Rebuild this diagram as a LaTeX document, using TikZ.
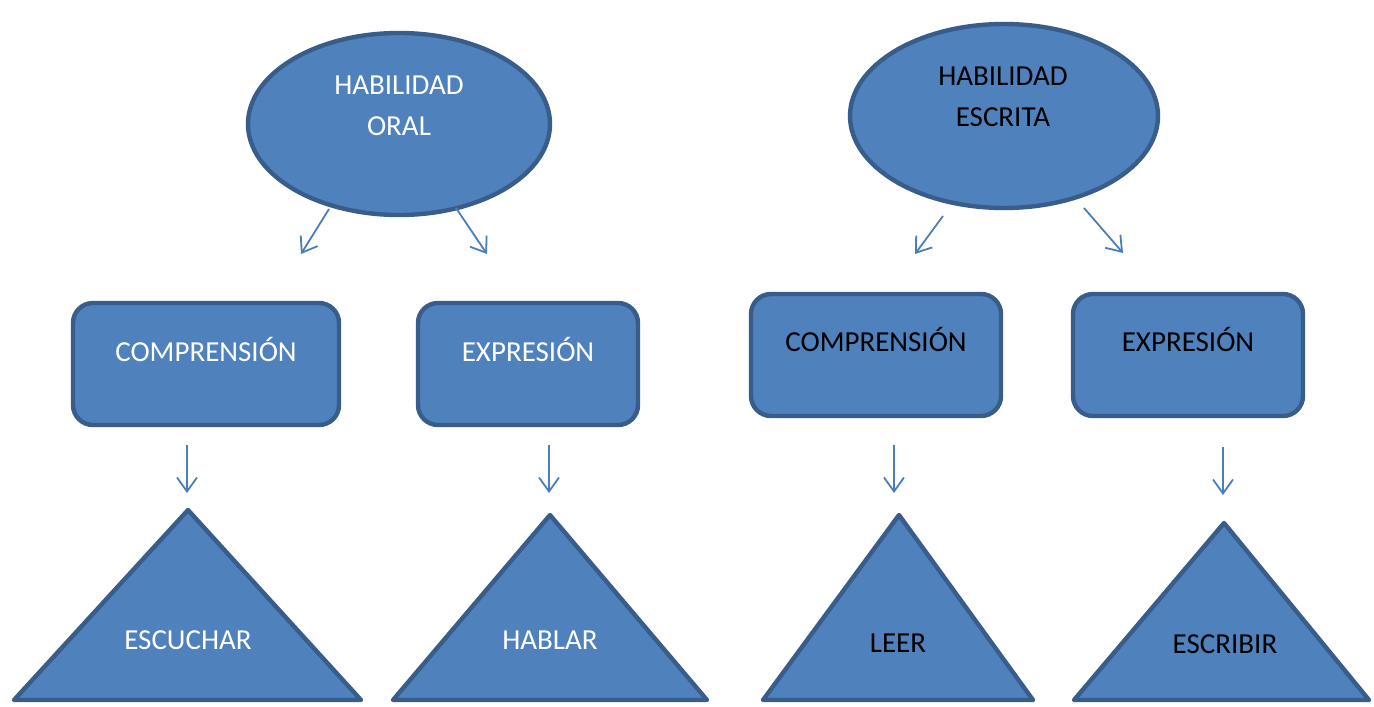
\documentclass[tikz,border=0pt]{standalone}
\usepackage{fontspec}
\setmainfont{Carlito}
\usetikzlibrary{arrows.meta,shapes.geometric}
\definecolor{boxfill}{HTML}{4F81BD}
\definecolor{boxline}{HTML}{385D8A}
\definecolor{arrowblue}{HTML}{4A7EBB}
\tikzset{
	skill/.style={ellipse, draw=boxline, fill=boxfill, line width=2.2pt, minimum width=151pt, minimum height=91pt, inner sep=0pt},
	part/.style={rectangle, rounded corners=10pt, draw=boxline, fill=boxfill, line width=2.2pt, inner sep=0pt},
	act/.style={draw=boxline, fill=boxfill, line width=2.2pt, line join=round},
	lbl/.style={font=\fontsize{14.5}{20.5}\selectfont, align=center, inner sep=0pt},
	flow/.style={draw=arrowblue, line width=0.9pt, -{Straight Barb[length=7pt,width=10pt]}}
}
\begin{document}
\begin{tikzpicture}[x=0.5pt, y=-0.5pt]
	\useasboundingbox (0,0) rectangle (1374,706);

	% ellipses
	\node[skill] (oral) at (399,124) {};
	\node[lbl, white] (oraltxt) at (399,106) {HABILIDAD\\ORAL};
	\node[skill, minimum width=154pt, minimum height=92pt] (escrita) at (1004,116) {};
	\node[lbl] (escritatxt) at (1003,97) {HABILIDAD\\ESCRITA};

	% boxes
	\node[part, minimum width=133pt, minimum height=61pt] (comp1) at (206,364) {};
	\node[lbl, white] (comp1txt) at (206,349) {COMPRENSIÓN};
	\node[part, minimum width=110pt, minimum height=61pt] (expr1) at (528,364) {};
	\node[lbl, white] (expr1txt) at (528,349) {EXPRESIÓN};
	\node[part, minimum width=125pt, minimum height=61pt] (comp2) at (876,355) {};
	\node[lbl] (comp2txt) at (876,339) {COMPRENSIÓN};
	\node[part, minimum width=115pt, minimum height=61pt] (expr2) at (1188,355) {};
	\node[lbl] (expr2txt) at (1188,339) {EXPRESIÓN};

	% triangles
	\draw[act] (14,700) -- (188,510) -- (361,700) -- cycle;
	\node[lbl, white] (escuchar) at (188,640) {ESCUCHAR};
	\draw[act] (393,700) -- (550,515) -- (707,700) -- cycle;
	\node[lbl, white] (hablar) at (550,640) {HABLAR};
	\draw[act] (763,700) -- (899,515) -- (1033,700) -- cycle;
	\node[lbl] (leer) at (898,643) {LEER};
	\draw[act] (1074,700) -- (1224,523) -- (1369,700) -- cycle;
	\node[lbl] (escribir) at (1225,644) {ESCRIBIR};

	% arrow ends
	\coordinate (o1) at (329,209);
	\coordinate (o1e) at (301,254);
	\coordinate (o2) at (456,208);
	\coordinate (o2e) at (487,254);
	\coordinate (e1) at (943,216);
	\coordinate (e1e) at (915,254);
	\coordinate (e2) at (1084,208);
	\coordinate (e2e) at (1123,253);
	\coordinate (c1) at (187,445);
	\coordinate (c1e) at (187,493);
	\coordinate (x1) at (549,445);
	\coordinate (x1e) at (549,493);
	\coordinate (c2) at (894,445);
	\coordinate (c2e) at (894,493);
	\coordinate (x2) at (1223,447);
	\coordinate (x2e) at (1223,495);

	\draw[flow] (o1) -- (o1e);
	\draw[flow] (o2) -- (o2e);
	\draw[flow] (e1) -- (e1e);
	\draw[flow] (e2) -- (e2e);
	\draw[flow] (c1) -- (c1e);
	\draw[flow] (x1) -- (x1e);
	\draw[flow] (c2) -- (c2e);
	\draw[flow] (x2) -- (x2e);
\end{tikzpicture}
\end{document}
